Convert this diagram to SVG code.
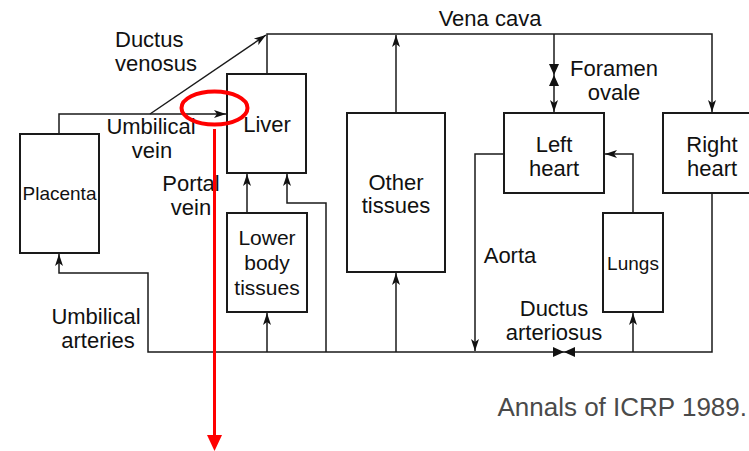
<svg xmlns="http://www.w3.org/2000/svg" width="749" height="451" viewBox="0 0 749 451">
<defs>
<style>
.box{fill:#fff;stroke:#1a1a1a;stroke-width:2}
.ln{fill:none;stroke:#1a1a1a;stroke-width:1.5}
.t{font-family:"Liberation Sans",Arial,sans-serif;font-size:22px;fill:#111;text-anchor:middle}
.s{font-size:19px}
.bt{fill:#111;stroke:none}
</style>
<marker id="ah" markerUnits="userSpaceOnUse" markerWidth="13" markerHeight="9" refX="12" refY="4" orient="auto">
<path d="M0,0 L12,4 L0,8 L3,4 z" fill="#111"/>
</marker>
</defs>
<rect width="749" height="451" fill="#fff"/>

<g id="connectors">
<polyline class="ln" points="59,134 59,114 226,114" marker-end="url(#ah)"/>
<line class="ln" x1="150" y1="114" x2="266" y2="35" marker-end="url(#ah)"/>
<polyline class="ln" points="267,74 267,34 712,34 712,112" marker-end="url(#ah)"/>
<line class="ln" x1="396" y1="113" x2="396" y2="35" marker-end="url(#ah)"/>
<line class="ln" x1="554" y1="34" x2="554" y2="112" marker-end="url(#ah)"/>
<polygon class="bt" points="549,64 559,64 554,75"/>
<polygon class="bt" points="549,86 559,86 554,75"/>
<polyline class="ln" points="504,154 475,154 475,351" marker-end="url(#ah)"/>
<polyline class="ln" points="633,213 633,154 605,154" marker-end="url(#ah)"/>
<polyline class="ln" points="712,193 712,352 148,352 148,273 59,273 59,254" marker-end="url(#ah)"/>
<polygon class="bt" points="553,347 553,357 564,352"/>
<polygon class="bt" points="575,347 575,357 564,352"/>
<line class="ln" x1="633" y1="352" x2="633" y2="313" marker-end="url(#ah)"/>
<line class="ln" x1="396" y1="352" x2="396" y2="273" marker-end="url(#ah)"/>
<line class="ln" x1="267" y1="352" x2="267" y2="313" marker-end="url(#ah)"/>
<line class="ln" x1="247" y1="213" x2="247" y2="174" marker-end="url(#ah)"/>
<polyline class="ln" points="326,352 326,203 287,203 287,174" marker-end="url(#ah)"/>
</g>

<g id="placenta">
<rect class="box" x="20" y="134" width="79" height="119"/>
<text class="t s" x="59.5" y="200">Placenta</text>
</g>
<g id="liver">
<rect class="box" x="227" y="74" width="79" height="99"/>
<text class="t" x="267" y="132">Liver</text>
</g>
<g id="lower-body">
<rect class="box" x="227" y="213" width="80" height="99"/>
<text class="t" style="font-size:21px" x="267" y="245">Lower</text>
<text class="t" style="font-size:21px" x="267" y="270">body</text>
<text class="t" style="font-size:21px" x="267" y="295">tissues</text>
</g>
<g id="other-tissues">
<rect class="box" x="347" y="113" width="98" height="159"/>
<text class="t" x="396" y="190">Other</text>
<text class="t" x="396" y="213">tissues</text>
</g>
<g id="left-heart">
<rect class="box" x="504" y="113" width="100" height="80"/>
<text class="t" x="554" y="152">Left</text>
<text class="t" x="554" y="176">heart</text>
</g>
<g id="right-heart">
<rect class="box" x="663" y="113" width="99" height="80"/>
<text class="t" x="712" y="152">Right</text>
<text class="t" x="712" y="176">heart</text>
</g>
<g id="lungs">
<rect class="box" x="603" y="213" width="60" height="99"/>
<text class="t s" x="633" y="270">Lungs</text>
</g>

<g id="labels">
<text class="t" x="490" y="26">Vena cava</text>
<text class="t" style="text-anchor:start" x="115" y="47">Ductus</text>
<text class="t" style="text-anchor:start" x="115" y="71">venosus</text>
<text class="t" x="151" y="134">Umbilical</text>
<text class="t" x="152" y="158">vein</text>
<text class="t" x="191" y="191">Portal</text>
<text class="t" x="191" y="215">vein</text>
<text class="t" x="614" y="76">Foramen</text>
<text class="t" x="614" y="100">ovale</text>
<text class="t" x="510" y="263">Aorta</text>
<text class="t" x="554" y="316">Ductus</text>
<text class="t" x="554" y="340">arteriosus</text>
<text class="t" x="96" y="324">Umbilical</text>
<text class="t" x="98" y="348">arteries</text>
<text x="747" y="416" style="font-family:'Liberation Sans',Arial,sans-serif;font-size:26px;fill:#4a4a4a;text-anchor:end">Annals of ICRP 1989.</text>
</g>

<g id="highlight">
<ellipse cx="214.5" cy="108" rx="33" ry="16.5" fill="none" stroke="#f00" stroke-width="4"/>
<line x1="214.5" y1="129" x2="214.5" y2="437" stroke="#f00" stroke-width="3"/>
<polygon points="207,435 222,435 214.5,451" fill="#f00"/>
</g>
</svg>
